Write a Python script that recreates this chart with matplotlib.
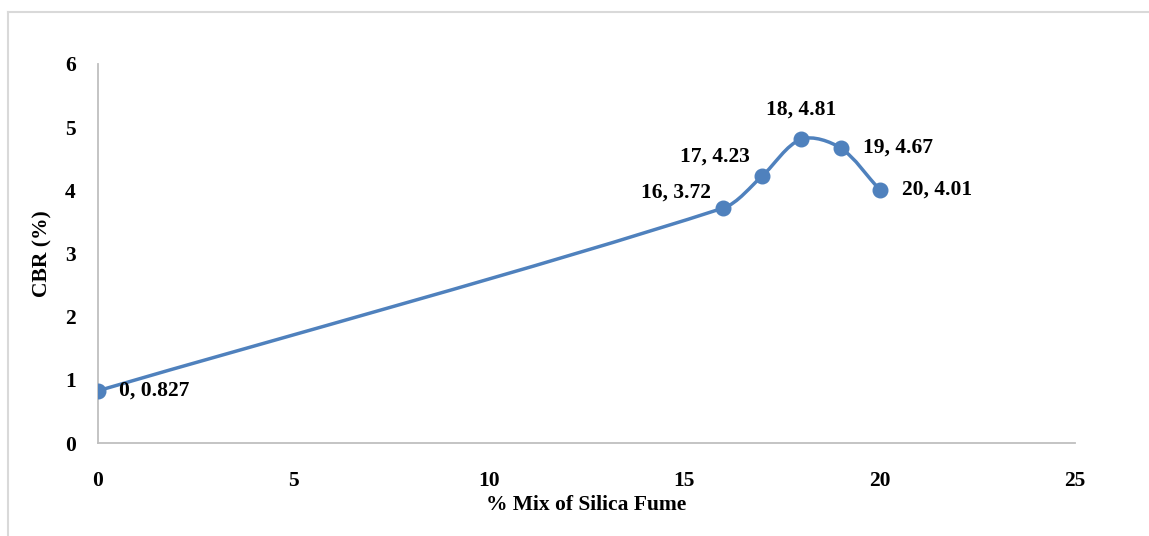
import numpy as np
import matplotlib
matplotlib.use("Agg")
import matplotlib.pyplot as plt
from matplotlib.path import Path
from matplotlib.patches import PathPatch
from matplotlib.lines import Line2D

# ==== données
silica_pct = [0, 16, 17, 18, 19, 20]
cbr_values = [0.827, 3.72, 4.23, 4.81, 4.67, 4.01]
point_labels = ["0, 0.827", "16, 3.72", "17, 4.23", "18, 4.81", "19, 4.67", "20, 4.01"]
x_ticks = [0, 5, 10, 15, 20, 25]
y_ticks = [0, 1, 2, 3, 4, 5, 6]

BLUE = "#4F81BD"
GREY = "#BFBFBF"
FS = 15.5
plt.rcParams["font.family"] = ["Liberation Serif", "DejaVu Serif"]
plt.rcParams["font.weight"] = "bold"

fig = plt.figure(figsize=(11.49, 5.36), dpi=100)
ax = fig.add_axes([0.0853, 0.1735, 0.8503, 0.7071])
ax.set_xlim(0, 25)
ax.set_ylim(0, 6)

# bordure du cadre (style Excel)
fig.add_artist(Line2D([8/1149, 1], [1-12/536, 1-12/536], color="#D9D9D9", lw=1.5))
fig.add_artist(Line2D([8/1149, 8/1149], [0, 1-12/536], color="#D9D9D9", lw=1.5))

# ==== courbe lissée (bezier, calculée en coordonnées écran)
fig.canvas.draw()
pts = ax.transData.transform(np.column_stack([silica_pct, cbr_values]))
n = len(pts)
dirs = []
for i in range(n):
    a = pts[max(i-1, 0)]
    b = pts[min(i+1, n-1)]
    d = b - a
    dirs.append(d / np.linalg.norm(d))
verts = [pts[0]]
codes = [Path.MOVETO]
t = 0.3
for i in range(n-1):
    seg = np.linalg.norm(pts[i+1] - pts[i])
    c1 = pts[i] + dirs[i] * seg * t
    c2 = pts[i+1] - dirs[i+1] * seg * t
    verts += [c1, c2, pts[i+1]]
    codes += [Path.CURVE4]*3
verts = ax.transData.inverted().transform(np.array(verts))
ax.add_patch(PathPatch(Path(verts, codes), fill=False, edgecolor=BLUE, lw=2.5, zorder=3))
ax.plot(silica_pct, cbr_values, "o", color=BLUE, markersize=10.5, zorder=4)

# étiquettes de points
offsets = [(15, 0, "left", "center"), (-9, 11, "right", "center"),
           (-9, 14, "right", "center"), (0, 14, "center", "bottom"),
           (16, 0, "left", "center"), (16, 0, "left", "center")]
for x, y, lab, (dx, dy, ha, va) in zip(silica_pct, cbr_values, point_labels, offsets):
    ax.annotate(lab, (x, y), xytext=(dx, dy), textcoords="offset points",
                ha=ha, va=va, fontsize=FS, fontweight="bold", color="black")

ax.set_xticks(x_ticks)
ax.set_yticks(y_ticks)
ax.tick_params(axis="both", length=0, labelsize=FS)
ax.tick_params(axis="y", pad=16)
ax.tick_params(axis="x", pad=20)
for s in ["top", "right"]:
    ax.spines[s].set_visible(False)
for s in ["left", "bottom"]:
    ax.spines[s].set_color(GREY)
    ax.spines[s].set_linewidth(1.3)

ax.set_xlabel("% Mix of Silica Fume", fontsize=FS, fontweight="bold", labelpad=3)
ax.set_ylabel("CBR (%)", fontsize=FS, fontweight="bold", labelpad=9)

fig.savefig("out.png", dpi=100)
